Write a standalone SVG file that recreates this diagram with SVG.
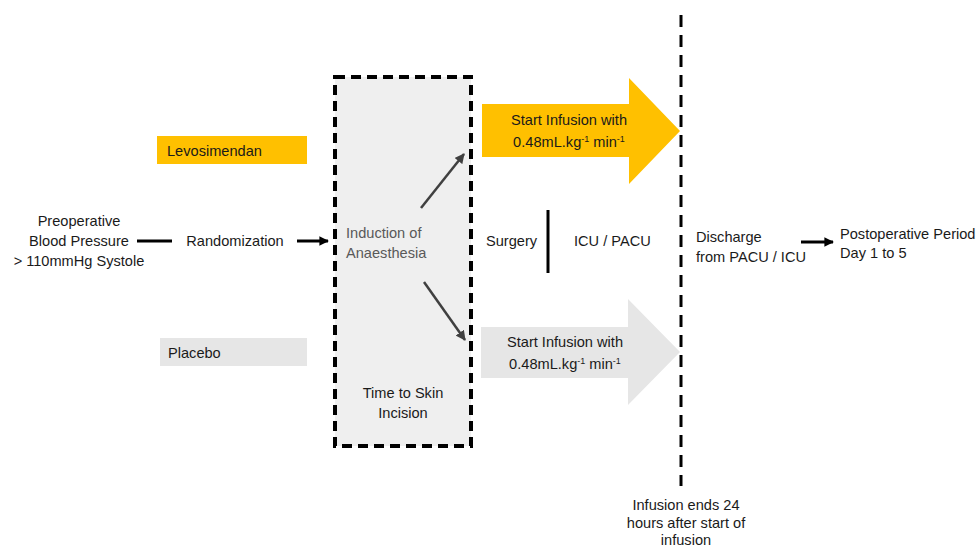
<svg xmlns="http://www.w3.org/2000/svg" width="978" height="549" viewBox="0 0 978 549">
<defs>
<style>
text{font-family:"Liberation Sans",Arial,sans-serif;font-size:14.6px;fill:#1a1a1a}
.g{fill:#595959}
.c{text-anchor:middle}
.ln{stroke:#000;stroke-width:3;fill:none}
.dg{stroke:#404040;stroke-width:2.5;fill:none}
</style>
<marker id="ah" viewBox="0 0 10 10" refX="9" refY="5" markerWidth="3.2" markerHeight="3.2" orient="auto"><path d="M0,0 L10,5 L0,10 z" fill="#000"/></marker>
<marker id="ahg" viewBox="0 0 10 10" refX="9" refY="5" markerWidth="4" markerHeight="4" orient="auto"><path d="M0,0 L10,5 L0,10 z" fill="#404040"/></marker>
</defs>
<rect width="978" height="549" fill="#fff"/>
<g id="box">
<rect x="335" y="77" width="136" height="369" fill="#EFEFEF" stroke="#000" stroke-width="4" stroke-dasharray="10,6"/>
<text x="346" y="238" class="g">Induction of</text>
<text x="346" y="258" class="g">Anaesthesia</text>
<text x="403" y="398" class="c">Time to Skin</text>
<text x="403" y="418" class="c">Incision</text>
</g>
<g id="preop">
<text x="79" y="226" class="c">Preoperative</text>
<text x="79" y="246" class="c">Blood Pressure</text>
<text x="79" y="266" class="c">&gt; 110mmHg Systole</text>
</g>
<g id="rand"><text x="235" y="246" class="c">Randomization</text></g>
<g id="levo"><rect x="157" y="136" width="150" height="28" fill="#FFC000"/><text x="167" y="156">Levosimendan</text></g>
<g id="placebo"><rect x="160" y="338" width="147" height="28" fill="#E6E6E6"/><text x="168" y="358">Placebo</text></g>
<g id="arrowLevo">
<polygon points="482,104 629,104 629,78 680,131 629,184 629,157 482,157" fill="#FFC000"/>
<text x="569" y="125" class="c">Start Infusion with</text>
<text x="569" y="147" class="c">0.48mL.kg<tspan dy="-5" font-size="9">-1</tspan><tspan dy="5"> min</tspan><tspan dy="-5" font-size="9">-1</tspan></text>
</g>
<g id="arrowPlacebo">
<polygon points="481,327 628,327 628,299 680,352 628,405 628,378 481,378" fill="#E6E6E6"/>
<text x="565" y="347" class="c">Start Infusion with</text>
<text x="565" y="369" class="c">0.48mL.kg<tspan dy="-5" font-size="9">-1</tspan><tspan dy="5"> min</tspan><tspan dy="-5" font-size="9">-1</tspan></text>
</g>
<g id="surgery"><text x="486" y="246">Surgery</text></g>
<g id="icu"><text x="574" y="246">ICU / PACU</text></g>
<g id="discharge"><text x="696" y="242">Discharge</text><text x="696" y="262">from PACU / ICU</text></g>
<g id="postop"><text x="840" y="239">Postoperative Period</text><text x="840" y="258">Day 1 to 5</text></g>
<g id="infend">
<text x="686" y="510" class="c">Infusion ends 24</text>
<text x="686" y="528" class="c">hours after start of</text>
<text x="686" y="545" class="c">infusion</text>
</g>
<g id="connectors">
<line x1="137" y1="241" x2="172" y2="241" class="ln"/>
<line x1="297" y1="241" x2="328" y2="241" class="ln" marker-end="url(#ah)"/>
<line x1="421" y1="208" x2="464" y2="154" class="dg" marker-end="url(#ahg)"/>
<line x1="424" y1="282" x2="465" y2="340" class="dg" marker-end="url(#ahg)"/>
<line x1="548" y1="210" x2="548" y2="273" class="ln"/>
<line x1="801" y1="242" x2="833" y2="242" class="ln" marker-end="url(#ah)"/>
<line x1="681" y1="15" x2="681" y2="486" stroke="#000" stroke-width="3" stroke-dasharray="12,8"/>
</g>
</svg>
